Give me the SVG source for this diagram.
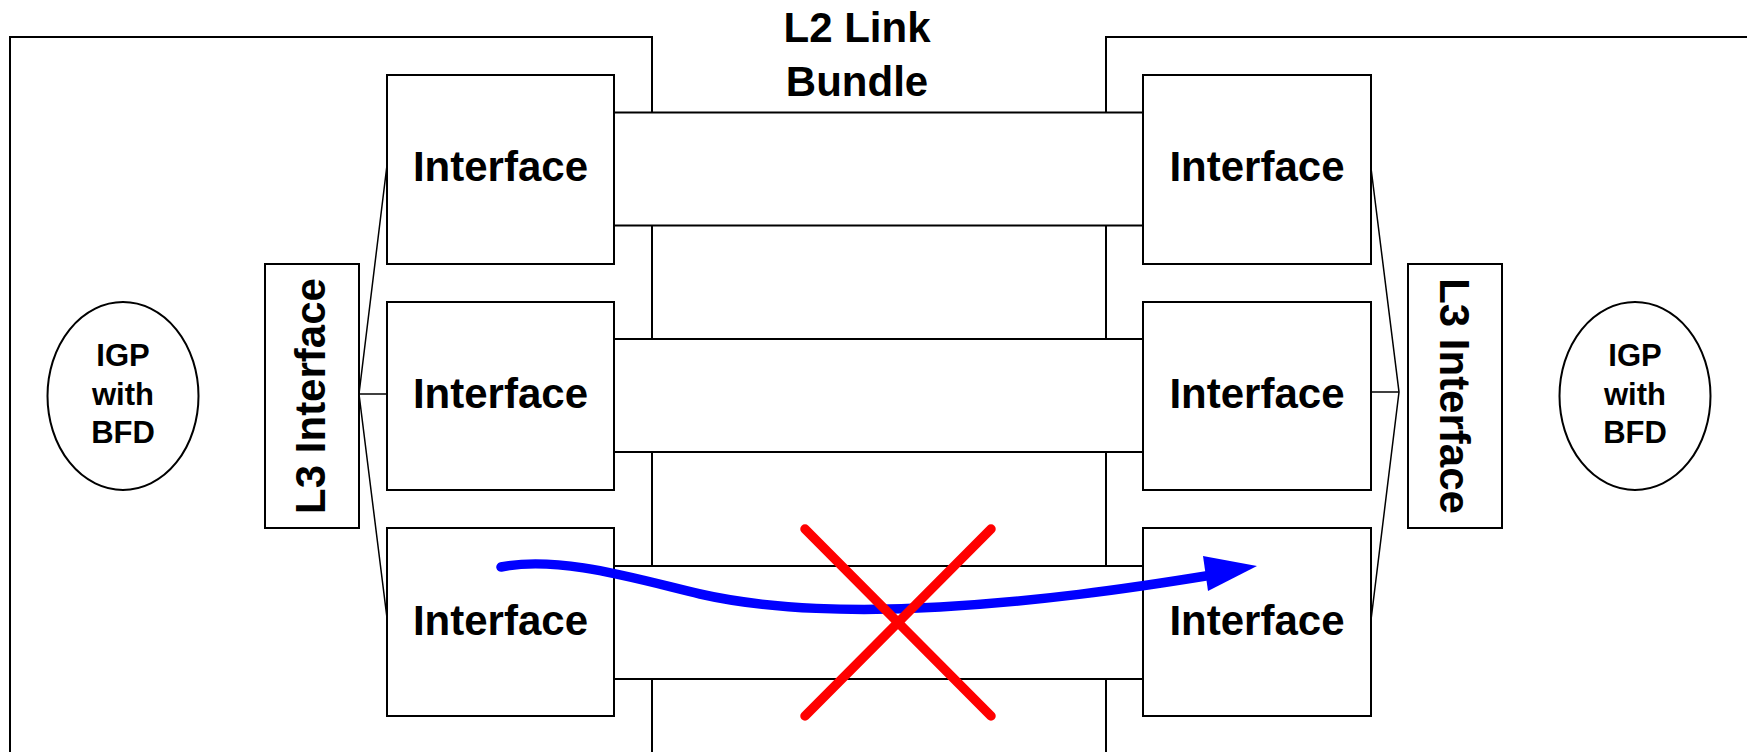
<svg xmlns="http://www.w3.org/2000/svg" width="1747" height="752" viewBox="0 0 1747 752">
  <style>
    .frame { fill: none; stroke: #000; stroke-width: 2; }
    .box { fill: #fff; stroke: #000; stroke-width: 2; }
    .bar { fill: #fff; stroke: #000; stroke-width: 2; }
    .wire { fill: none; stroke: #000; stroke-width: 1.5; }
    .lbl { font-family: "Liberation Sans", Arial, sans-serif; font-weight: bold; fill: #000; text-anchor: middle; }
    .big { font-size: 42px; }
    .small { font-size: 31px; }
  </style>

  <!-- router chassis outlines (run off the page edges) -->
  <g id="router-left">
    <path class="frame" d="M10,800 V37 H652 V800"/>
  </g>
  <g id="router-right">
    <path class="frame" d="M1106,800 V37 H1760"/>
  </g>

  <!-- bundle member links -->
  <g id="links">
    <rect class="bar" x="614" y="112.5" width="529" height="113"/>
    <rect class="bar" x="614" y="339" width="529" height="113"/>
    <rect class="bar" x="614" y="566" width="529" height="113"/>
  </g>

  <g id="title">
    <text class="lbl big" x="857" y="42">L2 Link</text>
    <text class="lbl big" x="857" y="96">Bundle</text>
  </g>

  <!-- member-to-L3 fan-in wires -->
  <g id="connectors">
    <polyline class="wire" points="387,165 359,394 387,618"/>
    <line class="wire" x1="359" y1="394" x2="387" y2="394"/>
    <polyline class="wire" points="1371,168 1399,392 1371,620"/>
    <line class="wire" x1="1371" y1="392" x2="1399" y2="392"/>
  </g>

  <!-- left side interfaces -->
  <g id="if-left-1">
    <rect class="box" x="387" y="75" width="227" height="189"/>
    <text class="lbl big" x="500.5" y="181">Interface</text>
  </g>
  <g id="if-left-2">
    <rect class="box" x="387" y="302" width="227" height="188"/>
    <text class="lbl big" x="500.5" y="408">Interface</text>
  </g>
  <g id="if-left-3">
    <rect class="box" x="387" y="528" width="227" height="188"/>
    <text class="lbl big" x="500.5" y="635">Interface</text>
  </g>

  <!-- right side interfaces -->
  <g id="if-right-1">
    <rect class="box" x="1143" y="75" width="228" height="189"/>
    <text class="lbl big" x="1257" y="181">Interface</text>
  </g>
  <g id="if-right-2">
    <rect class="box" x="1143" y="302" width="228" height="188"/>
    <text class="lbl big" x="1257" y="408">Interface</text>
  </g>
  <g id="if-right-3">
    <rect class="box" x="1143" y="528" width="228" height="188"/>
    <text class="lbl big" x="1257" y="635">Interface</text>
  </g>

  <!-- L3 bundle interfaces -->
  <g id="l3-left">
    <rect class="box" x="265" y="264" width="94" height="264"/>
    <text class="lbl big" transform="translate(325,396) rotate(-90)" x="0" y="0">L3 Interface</text>
  </g>
  <g id="l3-right">
    <rect class="box" x="1408" y="264" width="94" height="264"/>
    <text class="lbl big" transform="translate(1440,396) rotate(90)" x="0" y="0">L3 Interface</text>
  </g>

  <!-- routing protocol -->
  <g id="igp-left">
    <ellipse class="box" cx="123" cy="396" rx="75.5" ry="94"/>
    <text class="lbl small" x="123" y="366">IGP</text>
    <text class="lbl small" x="123" y="405">with</text>
    <text class="lbl small" x="123" y="443">BFD</text>
  </g>
  <g id="igp-right">
    <ellipse class="box" cx="1635" cy="396" rx="75.5" ry="94"/>
    <text class="lbl small" x="1635" y="366">IGP</text>
    <text class="lbl small" x="1635" y="405">with</text>
    <text class="lbl small" x="1635" y="443">BFD</text>
  </g>

  <!-- traffic hashed onto the failed member -->
  <g id="flow">
    <path d="M501,567 C560,555 640,580 700,594 C770,610 860,612 940,607 C1040,601 1120,590 1212,575" fill="none" stroke="#0000ff" stroke-width="9.5" stroke-linecap="round"/>
    <polygon points="1257,566 1203,556 1208,591" fill="#0000ff"/>
  </g>

  <!-- link failure mark -->
  <g id="failure" stroke="#ff0000" stroke-width="9.5" stroke-linecap="round">
    <line x1="805" y1="529" x2="991" y2="716"/>
    <line x1="991" y1="529" x2="805" y2="716"/>
  </g>
</svg>
